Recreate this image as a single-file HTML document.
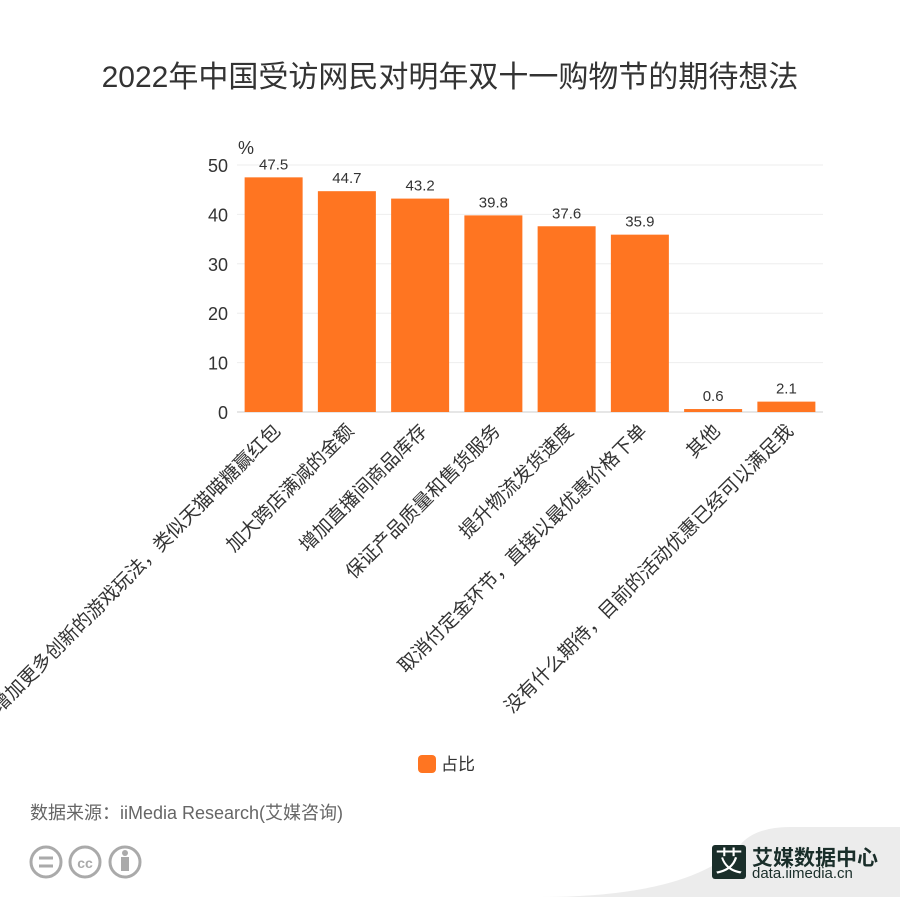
<!DOCTYPE html>
<html><head><meta charset="utf-8"><style>
body{margin:0;width:900px;height:897px;background:#fff;font-family:"Liberation Sans","Noto Sans CJK SC",sans-serif;overflow:hidden;position:relative}
.t{position:absolute}
</style></head><body>
<div class="t" style="left:0;width:900px;top:52px;text-align:center;font-size:30px;color:#333">2022年中国受访网民对明年双十一购物节的期待想法</div>
<svg id="c" width="900" height="897" style="position:absolute;left:0;top:0"></svg>
<div class="t" style="left:418px;top:750px;font-size:17px;color:#333"><span style="display:inline-block;width:18px;height:18px;border-radius:4px;background:#ff7521;vertical-align:-3px;margin-right:5px"></span>占比</div>
<div class="t" style="left:30px;top:799px;font-size:18px;color:#666">数据来源：iiMedia Research(艾媒咨询)</div>
<svg class="t" style="left:28px;top:842px" width="120" height="40">
<g fill="none" stroke="#aaa" stroke-width="3"><circle cx="18" cy="20" r="15"/><circle cx="57" cy="20" r="15"/><circle cx="97" cy="20" r="15"/></g>
<g stroke="#aaa" stroke-width="3"><line x1="11" y1="16" x2="25" y2="16"/><line x1="11" y1="24" x2="25" y2="24"/></g>
<text x="57" y="26" text-anchor="middle" font-size="14" font-weight="bold" fill="#aaa">cc</text>
<circle cx="97" cy="11" r="3" fill="#aaa"/><rect x="93" y="15" width="8" height="14" fill="#aaa"/>
</svg>
<svg class="t" style="left:540px;top:825px" width="360" height="72"><path d="M0 72 Q150 72 200 20 Q215 2 250 2 L360 2 L360 72 Z" fill="#ececec"/></svg>
<div class="t" style="left:712px;top:845px;width:34px;height:34px;background:#1a2e2a;color:#fff;font-size:28px;line-height:34px;text-align:center;border-radius:3px">艾</div>
<div class="t" style="left:752px;top:842px;font-size:21px;font-weight:bold;color:#1a2e2a">艾媒数据中心</div>
<div class="t" style="left:752px;top:865px;font-size:15px;color:#1a2e2a">data.iimedia.cn</div>
<script>
const categories=["增加更多创新的游戏玩法，类似天猫喵糖赢红包","加大跨店满减的金额","增加直播间商品库存","保证产品质量和售货服务","提升物流发货速度","取消付定金环节，直接以最优惠价格下单","其他","没有什么期待，目前的活动优惠已经可以满足我"];
const values=[47.5,44.7,43.2,39.8,37.6,35.9,0.6,2.1];
const ticks=[0,10,20,30,40,50];
const svg=document.getElementById('c');const NS='http://www.w3.org/2000/svg';
const x0=237,x1=823,y0=412,y50=165;
const y=v=>y0-(v/50)*(y0-y50);
const bw=(x1-x0)/categories.length;
function mk(t,a,txt){const e=document.createElementNS(NS,t);for(const k in a)e.setAttribute(k,a[k]);if(txt!=null)e.textContent=txt;svg.appendChild(e);return e;}
ticks.forEach(t=>{
const g=mk('line',{x1:x0,x2:x1,y1:y(t),y2:y(t),stroke:t?'#eee':'#ccc'});


const l=mk('text',{x:228,y:y(t)+7,'text-anchor':'end','font-size':18,fill:'#333'},t);


});
const u=mk('text',{x:238,y:154,'font-size':18,fill:'#333'},'%');


values.forEach((v,i)=>{
const cx=x0+bw*(i+0.5);
const r=mk('rect',{x:cx-29,y:y(v),width:58,height:y0-y(v),fill:'#ff7521'});


const t=mk('text',{x:cx,y:y(v)-8,'text-anchor':'middle','font-size':15,fill:'#333'},v);


const c=mk('text',{x:0,y:0,'text-anchor':'end','font-size':19,fill:'#333',transform:`translate(${cx+8},${y0+20}) rotate(-45)`},categories[i]);


});
</script>
</body></html>
